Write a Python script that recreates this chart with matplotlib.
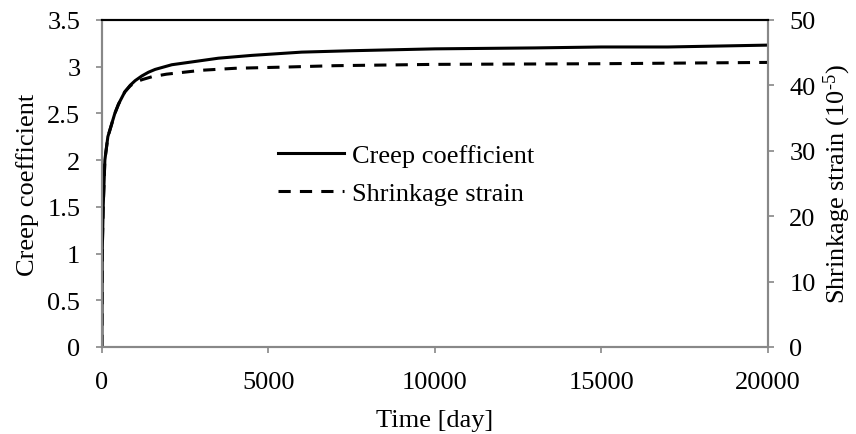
import matplotlib
matplotlib.use("Agg")
import matplotlib.pyplot as plt

# creep coefficient vs time
creep_days = [0, 10, 40, 90, 180, 390, 500, 690, 850, 1000, 1200, 1400, 1600,
              1800, 2100, 2500, 3500, 4500, 6000, 7500, 10000, 13000, 15000,
              17000, 20000]
creep_coef = [0, 1.0, 1.5, 2.0, 2.25, 2.5, 2.6, 2.73, 2.8, 2.85, 2.9, 2.94, 2.97,
              2.99, 3.02, 3.04, 3.09, 3.12, 3.155, 3.17, 3.19, 3.2, 3.21,
              3.21, 3.23]

# shrinkage strain (1e-5) vs time
shr_days = [0, 10, 40, 90, 180, 390, 500, 690, 850, 1000, 1230, 1500, 1940,
            3000, 4000, 5600, 7000, 10000, 15000, 20000]
shr_strain = [0, 14.3, 21.4, 28.6, 32.1, 35.7, 37.1, 39.0, 39.9, 40.5, 40.9,
              41.3, 41.7, 42.3, 42.6, 42.8, 43.0, 43.2, 43.3, 43.5]

plt.rcParams['font.family'] = ['Liberation Serif', 'DejaVu Serif']
plt.rcParams['mathtext.fontset'] = 'custom'
plt.rcParams['mathtext.rm'] = 'Liberation Serif'
plt.rcParams['mathtext.it'] = 'Liberation Serif:italic'
fs = 19
grey = '#888888'

fig = plt.figure(figsize=(8.56, 4.35), dpi=100)
ax = fig.add_axes([0.119, 0.2, 0.778, 0.752])
ax2 = ax.twinx()

l1, = ax.plot(creep_days, creep_coef, color='black', lw=2.2, label='Creep coefficient')
l2, = ax2.plot(shr_days, shr_strain, color='black', lw=2.2, ls=(0, (4, 3)),
               label='Shrinkage strain')

ax.set_xlim(0, 20000)
ax.set_ylim(0, 3.5)
ax2.set_ylim(0, 50)
ax.set_xticks([0, 5000, 10000, 15000, 20000])
ax.set_yticks([0, 0.5, 1, 1.5, 2, 2.5, 3, 3.5])
ax.set_yticklabels(['0', '0.5', '1', '1.5', '2', '2.5', '3', '3.5'])
ax2.set_yticks([0, 10, 20, 30, 40, 50])

for a in (ax, ax2):
    for side in ('left', 'right', 'bottom'):
        a.spines[side].set_color(grey)
        a.spines[side].set_linewidth(1.5)
    a.spines['top'].set_color('black')
    a.spines['top'].set_linewidth(1.5)
    a.tick_params(axis='y', direction='out', length=4.5, width=1.2, color=grey,
                  labelsize=fs, pad=11)
ax.tick_params(axis='x', direction='out', length=4.5, width=1.2, color=grey,
               labelsize=fs, pad=13)

ax.set_xlabel('Time [day]', fontsize=fs, labelpad=11)
ax.set_ylabel('Creep coefficient', fontsize=fs, labelpad=6)
ax2.set_ylabel('Shrinkage strain (10$^{\\mathregular{\u20105}}$)', fontsize=fs,
               labelpad=4)

ax.legend(handles=[l1, l2], loc='upper left', bbox_to_anchor=(0.265, 0.622),
          frameon=False, handlelength=2.5, handletextpad=0.3, labelspacing=0.55,
          fontsize=fs, borderaxespad=0, borderpad=0)

fig.savefig('out.png', dpi=100)
